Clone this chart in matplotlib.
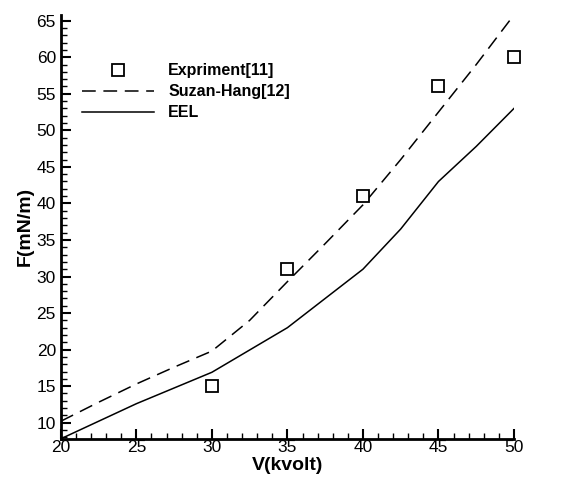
import numpy as np
import matplotlib.pyplot as plt
from matplotlib.ticker import MultipleLocator

plt.rcParams['font.family'] = ['Liberation Sans', 'DejaVu Sans']

# experiment points
v_exp = [30, 35, 40, 45, 50]
f_exp = [15, 31, 41, 56, 60]

# Suzan-Hang curve (dashed)
v_sh = [20, 22.5, 25, 27.5, 30, 32.5, 35, 37.5, 40, 42.5, 45, 47.5, 50]
f_sh = [10.2, 12.8, 15.3, 17.6, 19.8, 24.0, 29.3, 34.5, 39.8, 46.0, 52.5, 59.0, 65.8]

# EEL curve (solid)
v_eel = [20, 25, 30, 35, 40, 42.5, 45, 47.5, 50]
f_eel = [7.8, 12.6, 16.9, 23.0, 31.0, 36.5, 43.0, 47.8, 53.0]

fig = plt.figure(figsize=(5.63, 4.78), dpi=100)
ax = fig.add_axes([0.108, 0.082, 0.805, 0.887])

ax.plot(v_exp, f_exp, 's', mfc='white', mec='black', ms=9, mew=1.3,
        ls='none', label='Expriment[11]', clip_on=False, zorder=5)
ax.plot(v_sh, f_sh, color='black', lw=1.1, dashes=(9, 5), label='Suzan-Hang[12]')
ax.plot(v_eel, f_eel, color='black', lw=1.1, label='EEL')

ax.set_xlim(20, 50)
ax.set_ylim(7.8, 65.8)
ax.xaxis.set_major_locator(MultipleLocator(5))
ax.xaxis.set_minor_locator(MultipleLocator(1))
ax.yaxis.set_major_locator(MultipleLocator(5))
ax.yaxis.set_minor_locator(MultipleLocator(1))
ax.tick_params(which='major', direction='in', length=7, width=1.5, labelsize=12.5)
ax.tick_params(which='minor', direction='in', length=4, width=1)
ax.tick_params(axis='x', pad=1)

for s in ['top', 'right']:
    ax.spines[s].set_visible(False)
for s in ['left', 'bottom']:
    ax.spines[s].set_linewidth(2)

ax.set_xlabel('V(kvolt)', fontsize=14, fontweight='bold', labelpad=1)
ax.set_ylabel('F(mN/m)', fontsize=14, fontweight='bold', labelpad=2)

ax.legend(loc='upper left', bbox_to_anchor=(0.015, 0.92), frameon=False,
          prop={'weight': 'bold', 'size': 11.5}, handlelength=4.5,
          handletextpad=0.9, labelspacing=0.38)

fig.savefig('out.png', dpi=100)
